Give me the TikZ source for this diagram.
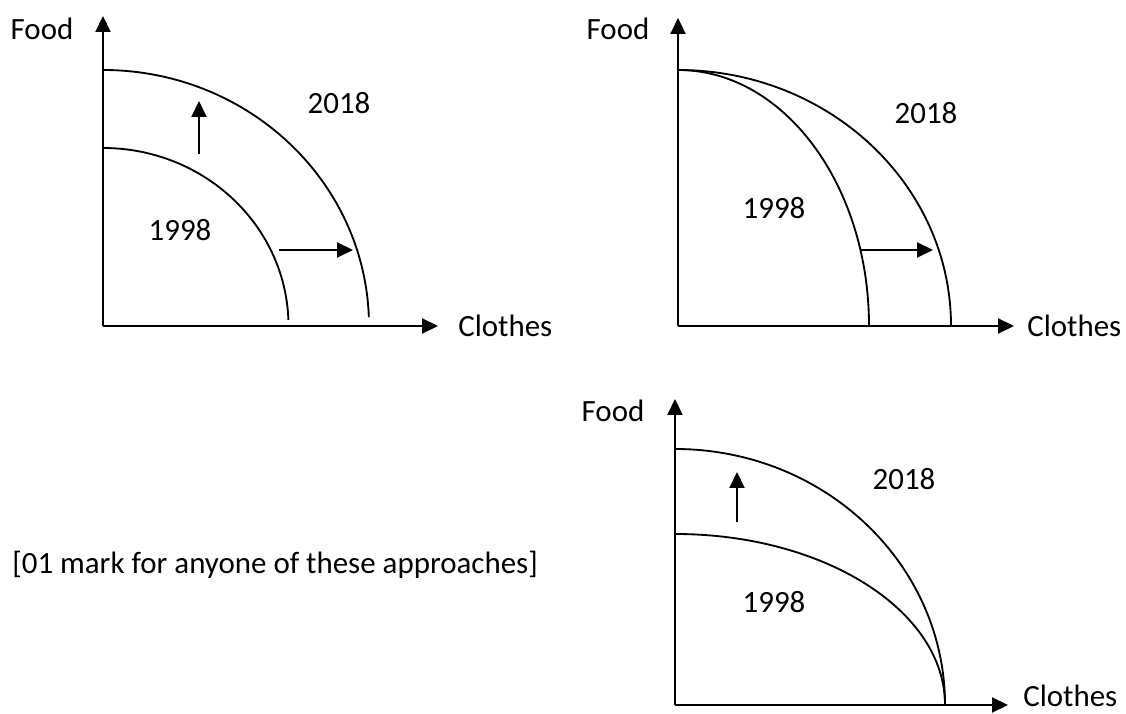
\documentclass[tikz,border=0pt]{standalone}
\usepackage{fontspec}
\setmainfont{Carlito}
\usetikzlibrary{arrows.meta}

\begin{document}
\begin{tikzpicture}[
    axis/.style={-{Triangle[length=0.32cm, width=0.3cm]}, line width=1.2pt},
    ppf/.style={line width=1.05pt},
    arr/.style={-{Triangle[length=0.32cm, width=0.3cm]}, line width=1.1pt},
    lbl/.style={font=\fontsize{17.6}{21}\selectfont, inner sep=0pt}
]
\useasboundingbox (0,0) rectangle (22.52,14.26);

% top left: both goods grow
\coordinate (O1) at (2.06,7.74);
\coordinate (Y1) at (2.06,13.94);
\coordinate (X1) at (8.76,7.74);
\draw[axis] (O1) -- (Y1);
\draw[axis] (O1) -- (X1);
\draw[ppf] (2.06,12.86) arc[start angle=90, end angle=2, x radius=5.32, y radius=5.12];
\draw[ppf] (2.06,11.30) arc[start angle=90, end angle=2, x radius=3.71, y radius=3.56];
\coordinate (up1a) at (3.98,11.18);
\coordinate (up1b) at (3.98,12.24);
\coordinate (rt1a) at (5.58,9.26);
\coordinate (rt1b) at (7.06,9.26);
\draw[arr] (up1a) -- (up1b);
\draw[arr] (rt1a) -- (rt1b);
\node[lbl] (food1) at (0.84,13.68) {Food};
\node[lbl, anchor=west] (cloth1) at (9.16,7.74) {Clothes};
\node[lbl] (new1) at (6.78,12.20) {2018};
\node[lbl] (old1) at (3.60,9.66) {1998};

% top right: only clothes grow
\coordinate (O2) at (13.56,7.74);
\coordinate (Y2) at (13.56,13.90);
\coordinate (X2) at (20.28,7.74);
\draw[axis] (O2) -- (Y2);
\draw[axis] (O2) -- (X2);
\draw[ppf] (13.56,12.86) arc[start angle=90, end angle=0, x radius=5.46, y radius=5.12];
\draw[ppf] (13.56,12.86) arc[start angle=90, end angle=0, x radius=3.82, y radius=5.12];
\coordinate (rt2a) at (17.22,9.26);
\coordinate (rt2b) at (18.66,9.26);
\draw[arr] (rt2a) -- (rt2b);
\node[lbl] (food2) at (12.36,13.68) {Food};
\node[lbl, anchor=west] (cloth2) at (20.54,7.74) {Clothes};
\node[lbl] (new2) at (18.52,12.00) {2018};
\node[lbl] (old2) at (15.48,10.10) {1998};

% bottom: only food grows
\coordinate (O3) at (13.50,0.16);
\coordinate (Y3) at (13.50,6.28);
\coordinate (X3) at (20.16,0.16);
\draw[axis] (O3) -- (Y3);
\draw[axis] (O3) -- (X3);
\draw[ppf] (13.50,5.28) arc[start angle=90, end angle=0, x radius=5.40, y radius=5.12];
\draw[ppf] (13.50,3.58) arc[start angle=90, end angle=0, x radius=5.40, y radius=3.42];
\coordinate (up3a) at (14.74,3.81);
\coordinate (up3b) at (14.74,4.82);
\draw[arr] (up3a) -- (up3b);
\node[lbl] (food3) at (12.26,6.05) {Food};
\node[lbl, anchor=west] (cloth3) at (20.46,0.34) {Clothes};
\node[lbl] (new3) at (18.08,4.68) {2018};
\node[lbl] (old3) at (15.48,2.21) {1998};

\node[lbl, anchor=west] (note) at (0.24,2.96) {[01 mark for anyone of these approaches]};
\end{tikzpicture}
\end{document}
